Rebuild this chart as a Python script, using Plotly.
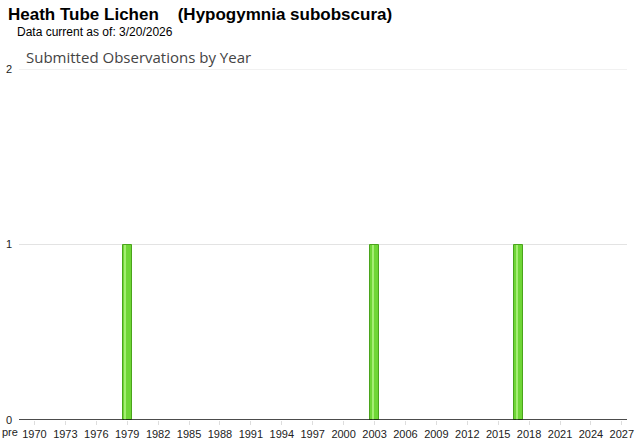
import plotly.graph_objects as go

title_text = "Heath Tube Lichen\u00a0\u00a0\u00a0\u00a0(Hypogymnia subobscura)"
subtitle_text = "Data current as of: 3/20/2026"
chart_title = "Submitted Observations by Year"

years = [1979, 2003, 2017]
counts = [1, 1, 1]

tick_years = list(range(1970, 2028, 3))
tick_labels = [str(y) for y in tick_years]

PW, PH = 608, 351  # plot area size in px

fig = go.Figure()
fig.add_trace(go.Bar(
    x=years, y=counts, width=0.9,
    marker=dict(color="#6fd636", line=dict(color="#4aa41c", width=1)),
    hoverinfo="x+y",
))
# lighter highlight stripe on each bar
fig.add_trace(go.Bar(
    x=years, y=counts, width=0.2, offset=-0.28,
    marker=dict(color="#a4ee72", line=dict(width=0)),
    hoverinfo="skip",
))

fig.update_layout(
    width=640, height=442,
    margin=dict(l=19, r=13, t=69, b=22, autoexpand=False),
    paper_bgcolor="white", plot_bgcolor="white",
    showlegend=False,
    barmode="overlay",
    bargap=0,
    font=dict(family="Arial, Liberation Sans, sans-serif", size=11, color="#222"),
    xaxis=dict(
        range=[1968.5, 2027.5], automargin=False,
        tickmode="array", tickvals=tick_years, ticktext=tick_labels,
        showgrid=False, zeroline=False,
        ticks="outside", ticklen=4, tickcolor="#dddddd",
        tickfont=dict(size=11, color="#222"),
        showline=False,
    ),
    yaxis=dict(
        range=[0, 2], tickvals=[0, 1, 2], automargin=False,
        showgrid=True, gridcolor="#e3e3e3", gridwidth=1,
        zeroline=False, showline=False,
        tickfont=dict(size=11, color="#222"),
        ticklabelstandoff=6,
    ),
    shapes=[
        dict(type="line", xref="paper", yref="y", x0=0, x1=1, y0=2, y1=2,
             line=dict(color="#e3e3e3", width=1), layer="below"),
        dict(type="line", xref="paper", yref="y", x0=0, x1=1, y0=0, y1=0,
             line=dict(color="#111", width=1.5)),
    ],
    annotations=[
        dict(text="<b>" + title_text + "</b>", xref="paper", yref="paper",
             x=-13/PW, y=1 + (69-14)/PH, xanchor="left", yanchor="middle",
             showarrow=False, font=dict(family="Arial, Liberation Sans, sans-serif", size=17, color="#000")),
        dict(text=subtitle_text, xref="paper", yref="paper",
             x=-4/PW, y=1 + (69-32)/PH, xanchor="left", yanchor="middle",
             showarrow=False, font=dict(family="Arial, Liberation Sans, sans-serif", size=12, color="#000")),
        dict(text=chart_title, xref="paper", yref="paper",
             x=5/PW, y=1 + (69-57)/PH, xanchor="left", yanchor="middle",
             showarrow=False, font=dict(family="Open Sans, sans-serif", size=15, color="#444")),
        dict(text="pre", xref="paper", yref="paper",
             x=-19/PW, y=-(432-420)/PH, xanchor="left", yanchor="middle",
             showarrow=False, font=dict(family="Arial, Liberation Sans, sans-serif", size=11, color="#222")),
    ],
)

fig.write_html("out.html", config={"displayModeBar": False},
               post_script="document.body.style.margin='0';")
